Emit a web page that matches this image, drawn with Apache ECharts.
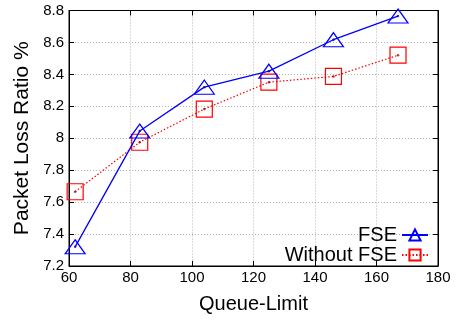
<!DOCTYPE html>
<html>
<head>
<meta charset="utf-8">
<script src="https://cdn.jsdelivr.net/npm/echarts@6/dist/echarts.min.js"></script>
<style>html,body{margin:0;padding:0;background:#fff}#c{width:456px;height:320px}</style>
</head>
<body>
<div id="c"></div>
<script>
const queueLimit = [62, 83, 104, 125, 146, 167];
const fseValues = [7.32, 8.045, 8.32, 8.42, 8.617, 8.765];
const withoutFseValues = [7.665, 7.975, 8.183, 8.351, 8.387, 8.52];
const seriesNames = ['FSE', 'Without FSE'];
const xTitle = 'Queue-Limit';
const yTitle = 'Packet Loss Ratio %';

const FONT = '"Liberation Sans", Arial, Helvetica, sans-serif';
const pair = (xs, ys) => xs.map((x, i) => [x, ys[i]]);

const chart = echarts.init(document.getElementById('c'), null, {renderer: 'canvas'});
chart.setOption({
  animation: false,
  backgroundColor: '#fff',
  textStyle: {fontFamily: FONT},
  grid: {left: 69, right: 18, top: 10.5, bottom: 54, show: true, borderColor: '#000', borderWidth: 1, containLabel: false},
  legend: {
    data: seriesNames,
    orient: 'vertical',
    align: 'right',
    right: 27,
    top: 225,
    padding: 0,
    itemGap: 0,
    itemWidth: 26,
    itemHeight: 14,
    textStyle: {fontFamily: FONT, fontSize: 20, color: '#000', lineHeight: 19}
  },
  xAxis: [{
    type: 'value', min: 60, max: 180, interval: 20,
    name: xTitle, nameLocation: 'middle', nameGap: 28,
    nameTextStyle: {fontFamily: FONT, fontSize: 20, color: '#000'},
    axisLine: {show: true, lineStyle: {color: '#000', width: 1}},
    axisTick: {show: true, inside: true, length: 5, lineStyle: {color: '#000'}},
    axisLabel: {fontFamily: FONT, fontSize: 15, color: '#000', margin: 4},
    splitLine: {show: true, lineStyle: {color: '#b4b4b4', type: [1, 2], width: 1}}
  }, {
    type: 'value', min: 60, max: 180, interval: 20, position: 'top',
    axisLine: {show: true, lineStyle: {color: '#000'}},
    axisTick: {show: true, inside: true, length: 5, lineStyle: {color: '#000'}},
    axisLabel: {show: false}, splitLine: {show: false}
  }],
  yAxis: [{
    type: 'value', min: 7.2, max: 8.8, interval: 0.2,
    name: yTitle, nameLocation: 'middle', nameGap: 35, nameRotate: 90,
    nameTextStyle: {fontFamily: FONT, fontSize: 21, color: '#000'},
    axisLine: {show: true, lineStyle: {color: '#000', width: 1}},
    axisTick: {show: true, inside: true, length: 5, lineStyle: {color: '#000'}},
    axisLabel: {fontFamily: FONT, fontSize: 15, color: '#000', margin: 5,
      formatter: v => String(parseFloat(v.toFixed(1)))},
    splitLine: {show: true, lineStyle: {color: '#b4b4b4', type: [1, 2], width: 1}}
  }, {
    type: 'value', min: 7.2, max: 8.8, interval: 0.2, position: 'right',
    axisLine: {show: true, lineStyle: {color: '#000'}},
    axisTick: {show: true, inside: true, length: 5, lineStyle: {color: '#000'}},
    axisLabel: {show: false}, splitLine: {show: false}
  }],
  series: [{
    name: seriesNames[0], type: 'line',
    data: pair(queueLimit, fseValues),
    symbol: 'triangle', symbolSize: [20, 14],
    lineStyle: {color: '#0000ff', width: 1.3, type: 'solid'},
    itemStyle: {color: 'rgba(255,255,255,0)', borderColor: '#0000ff', borderWidth: 1.2},
    z: 3
  }, {
    name: seriesNames[1], type: 'line',
    data: pair(queueLimit, withoutFseValues),
    symbol: 'rect', symbolSize: [16, 16],
    lineStyle: {color: '#ff0000', width: 1.2, type: [1.5, 2]},
    itemStyle: {color: 'rgba(255,255,255,0)', borderColor: '#ff0000', borderWidth: 1.2},
    z: 2
  }, {
    name: 'fse-dots', type: 'scatter', data: pair(queueLimit, fseValues),
    symbol: 'circle', symbolSize: 2.5, itemStyle: {color: '#0000aa'}, z: 4, silent: true
  }, {
    name: 'nofse-dots', type: 'scatter', data: pair(queueLimit, withoutFseValues),
    symbol: 'circle', symbolSize: 2.5, itemStyle: {color: '#aa0000'}, z: 4, silent: true
  }]
});
</script>
</body>
</html>
